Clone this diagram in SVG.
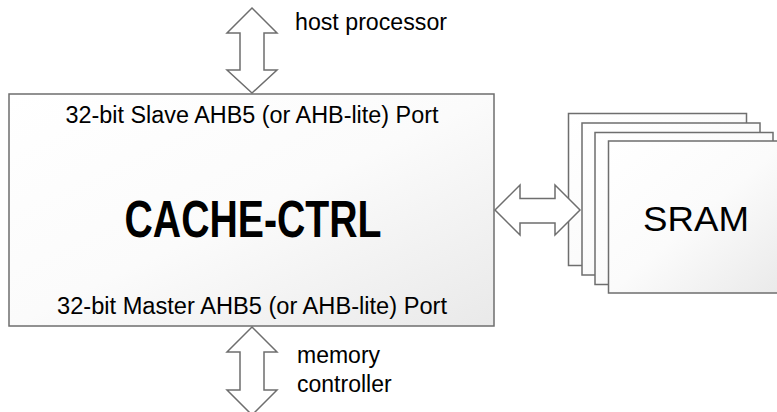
<svg xmlns="http://www.w3.org/2000/svg" width="777" height="412" viewBox="0 0 777 412">
  <defs>
    <linearGradient id="boxgrad" x1="0" y1="0" x2="1" y2="1">
      <stop offset="0" stop-color="#ffffff"/>
      <stop offset="0.5" stop-color="#fbfbfb"/>
      <stop offset="1" stop-color="#e9e9e9"/>
    </linearGradient>
  </defs>
  <style>
    .box { fill: url(#boxgrad); stroke: #6e6e6e; stroke-width: 1.5; }
    .arrow { fill: #ffffff; stroke: #6e6e6e; stroke-width: 1.5; stroke-linejoin: miter; }
    .t { font-family: "Liberation Sans", Arial, sans-serif; fill: #000000; }
    .lbl { font-size: 23px; }
    .big { font-size: 52px; font-weight: bold; }
    .sram { font-size: 35px; }
  </style>
  <rect width="777" height="412" fill="#ffffff"/>

  <g id="cache-ctrl">
    <rect class="box" x="9" y="94" width="485" height="232"/>
    <text class="t lbl" x="252" y="122.5" text-anchor="middle" textLength="373" lengthAdjust="spacingAndGlyphs">32-bit Slave AHB5 (or AHB-lite) Port</text>
    <text class="t big" x="253" y="236.5" text-anchor="middle" textLength="257" lengthAdjust="spacingAndGlyphs">CACHE-CTRL</text>
    <text class="t lbl" x="252" y="314" text-anchor="middle" textLength="390" lengthAdjust="spacingAndGlyphs">32-bit Master AHB5 (or AHB-lite) Port</text>
  </g>

  <g id="sram">
    <rect class="box" x="568.5" y="113.5" width="178" height="152"/>
    <rect class="box" x="582" y="123" width="178" height="152"/>
    <rect class="box" x="595" y="132.5" width="178" height="152"/>
    <rect class="box" x="608.5" y="141" width="178" height="152"/>
    <text class="t sram" x="696" y="231" text-anchor="middle" textLength="106" lengthAdjust="spacingAndGlyphs">SRAM</text>
  </g>

  <g id="host-processor">
    <text class="t lbl" x="295" y="30" textLength="152" lengthAdjust="spacingAndGlyphs">host processor</text>
  </g>

  <g id="memory-controller">
    <text class="t lbl" x="297" y="363">memory</text>
    <text class="t lbl" x="297" y="391.5">controller</text>
  </g>

  <g id="connectors">
    <polygon class="arrow" points="252,8 277,33 264,33 264,70 277,70 252,93 227,70 240,70 240,33 227,33"/>
    <polygon class="arrow" points="252,327 277,352 264,352 264,390 277,390 252,415 227,390 240,390 240,352 227,352"/>
    <polygon class="arrow" points="495,210 520,185 520,198.5 555,198.5 555,185 580,210 555,235 555,223 520,223 520,235"/>
  </g>
</svg>
